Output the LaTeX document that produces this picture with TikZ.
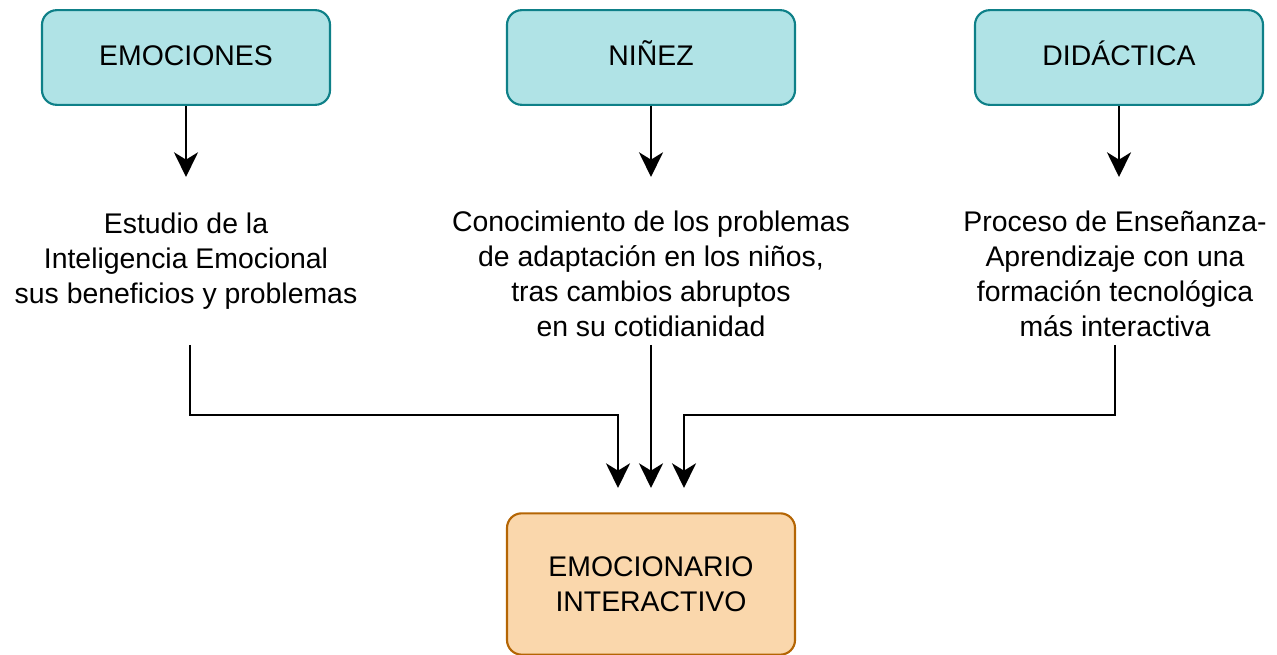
\documentclass[tikz,border=0pt]{standalone}
\usepackage{fontspec}
\setmainfont{Liberation Sans}
\usetikzlibrary{arrows.meta}
\definecolor{tealfill}{HTML}{B0E3E6}
\definecolor{tealline}{HTML}{0E8088}
\definecolor{orfill}{HTML}{FAD7AC}
\definecolor{orline}{HTML}{B46504}
\tikzset{
  topbox/.style={draw=tealline, fill=tealfill, line width=1.6pt, rounded corners=11pt,
    minimum width=216pt, minimum height=71pt, inner sep=0pt,
    text height=15pt, text depth=0pt,
    font=\fontsize{21.3}{26}\selectfont},
  endbox/.style={draw=orline, fill=orfill, line width=1.6pt, rounded corners=11pt,
    minimum width=216pt, minimum height=106pt, inner sep=0pt, align=center,
    font=\fontsize{21.3}{26.5}\selectfont},
  txt/.style={align=center, inner sep=0pt, font=\fontsize{21.3}{26.3}\selectfont},
  conn/.style={line width=1.8pt, -{Stealth[length=18.5pt, width=18pt, inset=5.5pt]}},
}
\begin{document}
\begin{tikzpicture}[x=0.75pt, y=-0.75pt]
\useasboundingbox (0,0) rectangle (1277,655);
% top boxes
\node[topbox] (b1) at (186,57.5) {\raisebox{1.5pt}{EMOCIONES}};
\node[topbox] (b2) at (651,57.5) {\raisebox{1.5pt}{NIÑEZ}};
\node[topbox] (b3) at (1119,57.5) {\raisebox{1.5pt}{DIDÁCTICA}};
% texts
\node[txt] (t1) at (186,261) {Estudio de la\\Inteligencia Emocional\\sus beneficios y problemas};
\node[txt] (t2) at (651,274) {Conocimiento de los problemas\\de adaptación en los niños,\\tras cambios abruptos\\en su cotidianidad};
\node[txt] (t3) at (1115,274) {Proceso de Enseñanza-\\Aprendizaje con una\\formación tecnológica\\más interactiva};
% bottom box
\node[endbox] (e) at (651,584) {EMOCIONARIO\\INTERACTIVO};
% coordinates
\coordinate (a1) at (186,177);
\coordinate (a2) at (651,177);
\coordinate (a3) at (1119,177);
\coordinate (s1) at (190,345);
\coordinate (s2) at (651,345);
\coordinate (s3) at (1115,345);
\coordinate (e1) at (618,488);
\coordinate (e2) at (651,488);
\coordinate (e3) at (684,488);
% connectors
\draw[conn] (b1.south) -- (a1);
\draw[conn] (b2.south) -- (a2);
\draw[conn] (b3.south) -- (a3);
\draw[conn] (s1) |- (618,415) -- (e1);
\draw[conn] (s2) -- (e2);
\draw[conn] (s3) |- (684,415) -- (e3);
\end{tikzpicture}
\end{document}
